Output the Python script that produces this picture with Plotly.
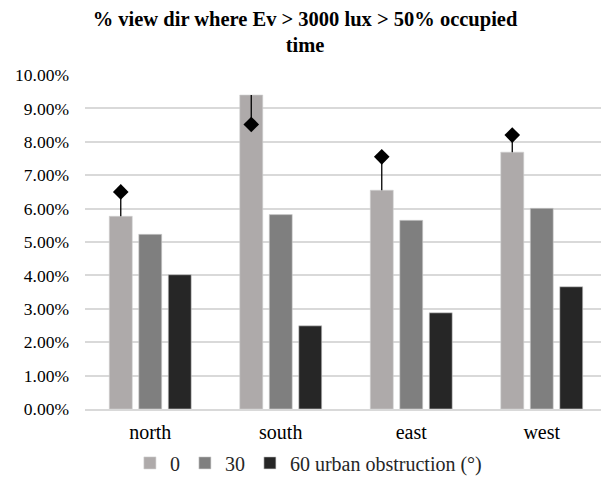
import plotly.graph_objects as go

categories = ["north", "south", "east", "west"]
series_names = ["0", "30", "60 urban obstruction (°)"]
values_0 = [5.77, 9.40, 6.55, 7.69]
values_30 = [5.23, 5.82, 5.65, 6.01]
values_60 = [4.02, 2.49, 2.88, 3.66]
markers_0 = [6.50, 8.52, 7.55, 8.20]
y_ticks = [0, 1, 2, 3, 4, 5, 6, 7, 8, 9, 10]

colors = ["#aeaaaa", "#7f7f7f", "#262626"]
series = [values_0, values_30, values_60]

step = 0.226
width = 0.176
idx = list(range(len(categories)))

fig = go.Figure()
for j, (name, vals) in enumerate(zip(series_names, series)):
    kw = {}
    if j == 0:
        plus = [max(m - v, 0) for m, v in zip(markers_0, vals)]
        minus = [max(v - m, 0) for m, v in zip(markers_0, vals)]
        kw["error_y"] = dict(type="data", symmetric=False, array=plus,
                             arrayminus=minus, width=0, thickness=1.3,
                             color="#000000")
    fig.add_trace(go.Bar(
        x=idx, y=vals, name=name,
        width=width, offset=(j - 1) * step - width / 2,
        marker=dict(color=colors[j], line=dict(width=0.6, color="#d0d0d0")),
        **kw,
    ))

fig.add_trace(go.Scatter(
    x=[i - step for i in idx], y=markers_0, mode="markers",
    marker=dict(symbol="diamond", size=12, color="#000000"),
    showlegend=False, hoverinfo="skip",
))

fig.update_layout(
    width=609, height=486,
    paper_bgcolor="white", plot_bgcolor="white",
    margin=dict(l=77, r=10, t=67, b=85),
    font=dict(family="Liberation Serif, Times New Roman, serif", color="#262626"),
    title=dict(text="<b>% view dir where Ev > 3000 lux > 50% occupied<br>time</b>",
               x=0.4877, xref="container", xanchor="center",
               y=0.964, yref="container", yanchor="top",
               font=dict(size=20.5, color="#000000")),
    barmode="overlay",
    showlegend=True,
    legend=dict(orientation="h", x=0.428, xanchor="center", xref="paper",
                y=-0.103, yanchor="top", font=dict(size=20, color="#262626"),
                tracegroupgap=0, traceorder="normal"),
    xaxis=dict(range=[-0.5, 3.5], tickvals=idx, ticktext=categories,
               showgrid=False, showline=True, linecolor="#d9d9d9", linewidth=1.5,
               ticks="", ticklabelstandoff=4, automargin=False,
               tickfont=dict(size=20, color="#000000"), zeroline=False),
    yaxis=dict(range=[0, 10], tickvals=y_ticks,
               ticktext=[f"{v:.2f}%" for v in y_ticks],
               showgrid=True, gridcolor="#d9d9d9", gridwidth=1.5,
               zeroline=False, ticks="", ticklen=0, automargin=False,
               ticklabelstandoff=15,
               tickfont=dict(size=17.5, color="#000000")),
)

fig.write_html("out.html")
